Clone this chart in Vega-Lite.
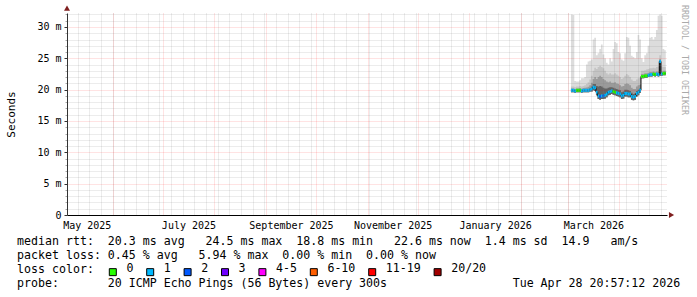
{
  "$schema": "https://vega.github.io/schema/vega-lite/v6.json",
  "width": 600,
  "height": 202,
  "autosize": "none",
  "padding": {"left": 67, "top": 13, "right": 30, "bottom": 82},
  "background": "#ffffff",
  "config": {"view": {"stroke": null}, "font": "DejaVu Sans Mono"},
  "title": {"text": "RRDTOOL / TOBI OETIKER", "orient": "right", "anchor": "start", "frame": "group", "angle": 90, "baseline": "middle", "offset": -4, "dx": -8, "font": "DejaVu Sans Mono", "fontSize": 8.3, "fontWeight": "normal", "color": "#aaaaaa"},
  "data": {"values": [
    {"t": "2026-03-03", "med": 19.9, "loss": "1", "lo": 19.6, "c": 20.05, "b": 20.2, "a": 20.5, "hi": 32.0},
    {"t": "2026-03-04", "med": 19.9, "loss": "1", "lo": 19.6, "c": 20.05, "b": 20.2, "a": 20.5, "hi": 31.9},
    {"t": "2026-03-05", "med": 19.8, "loss": "1", "lo": 19.5, "c": 19.95, "b": 20.1, "a": 20.4, "hi": 21.4},
    {"t": "2026-03-06", "med": 19.9, "loss": "0", "lo": 19.6, "c": 20.05, "b": 20.2, "a": 20.5, "hi": 21.3},
    {"t": "2026-03-07", "med": 19.9, "loss": "0", "lo": 19.6, "c": 20.05, "b": 20.2, "a": 20.5, "hi": 21.3},
    {"t": "2026-03-08", "med": 19.9, "loss": "0", "lo": 19.6, "c": 20.05, "b": 20.25, "a": 20.6, "hi": 21.5},
    {"t": "2026-03-09", "med": 19.8, "loss": "1", "lo": 19.5, "c": 20.0, "b": 20.15, "a": 20.5, "hi": 21.8},
    {"t": "2026-03-10", "med": 19.9, "loss": "1", "lo": 19.6, "c": 20.05, "b": 20.25, "a": 20.6, "hi": 21.8},
    {"t": "2026-03-11", "med": 19.9, "loss": "1", "lo": 19.6, "c": 20.05, "b": 20.3, "a": 20.7, "hi": 22.0},
    {"t": "2026-03-12", "med": 19.9, "loss": "1", "lo": 19.6, "c": 20.1, "b": 20.35, "a": 20.9, "hi": 24.0},
    {"t": "2026-03-13", "med": 19.9, "loss": "1", "lo": 19.6, "c": 20.1, "b": 20.45, "a": 21.2, "hi": 24.5},
    {"t": "2026-03-14", "med": 20.0, "loss": "1", "lo": 19.7, "c": 20.25, "b": 20.7, "a": 21.6, "hi": 24.6},
    {"t": "2026-03-15", "med": 20.1, "loss": "1", "lo": 19.7, "c": 20.5, "b": 21.1, "a": 22.2, "hi": 24.8},
    {"t": "2026-03-16", "med": 20.4, "loss": "1", "lo": 19.9, "c": 20.9, "b": 21.7, "a": 23.0, "hi": 28.0},
    {"t": "2026-03-17", "med": 20.3, "loss": "1", "lo": 19.8, "c": 20.9, "b": 22.0, "a": 23.5, "hi": 28.3},
    {"t": "2026-03-18", "med": 19.6, "loss": "1", "lo": 19.1, "c": 20.6, "b": 21.7, "a": 23.3, "hi": 25.5},
    {"t": "2026-03-19", "med": 19.0, "loss": "1", "lo": 18.5, "c": 20.5, "b": 22.0, "a": 23.6, "hi": 25.8},
    {"t": "2026-03-20", "med": 18.9, "loss": "2", "lo": 18.4, "c": 20.6, "b": 22.2, "a": 23.8, "hi": 26.5},
    {"t": "2026-03-21", "med": 19.0, "loss": "1", "lo": 18.5, "c": 20.5, "b": 22.0, "a": 23.6, "hi": 27.2},
    {"t": "2026-03-22", "med": 19.0, "loss": "2", "lo": 18.5, "c": 20.3, "b": 21.7, "a": 23.4, "hi": 25.6},
    {"t": "2026-03-23", "med": 19.1, "loss": "1", "lo": 18.6, "c": 20.2, "b": 21.5, "a": 23.0, "hi": 25.0},
    {"t": "2026-03-24", "med": 19.3, "loss": "1", "lo": 18.8, "c": 20.2, "b": 21.3, "a": 22.6, "hi": 24.3},
    {"t": "2026-03-25", "med": 19.6, "loss": "1", "lo": 19.1, "c": 20.3, "b": 21.2, "a": 22.4, "hi": 24.0},
    {"t": "2026-03-26", "med": 19.7, "loss": "1", "lo": 19.2, "c": 20.4, "b": 21.3, "a": 22.6, "hi": 25.0},
    {"t": "2026-03-27", "med": 19.8, "loss": "1", "lo": 19.3, "c": 20.4, "b": 21.1, "a": 22.4, "hi": 24.5},
    {"t": "2026-03-28", "med": 19.7, "loss": "0", "lo": 19.2, "c": 20.3, "b": 21.1, "a": 22.4, "hi": 26.5},
    {"t": "2026-03-29", "med": 19.6, "loss": "0", "lo": 19.1, "c": 20.2, "b": 21.2, "a": 22.6, "hi": 27.6},
    {"t": "2026-03-30", "med": 19.5, "loss": "1", "lo": 19.0, "c": 20.1, "b": 21.0, "a": 22.4, "hi": 27.4},
    {"t": "2026-03-31", "med": 19.4, "loss": "1", "lo": 18.9, "c": 20.0, "b": 20.9, "a": 22.2, "hi": 26.0},
    {"t": "2026-04-01", "med": 19.3, "loss": "1", "lo": 18.8, "c": 19.9, "b": 20.7, "a": 22.0, "hi": 25.8},
    {"t": "2026-04-02", "med": 19.0, "loss": "1", "lo": 18.5, "c": 19.6, "b": 20.5, "a": 21.7, "hi": 24.8},
    {"t": "2026-04-03", "med": 19.1, "loss": "1", "lo": 18.6, "c": 19.7, "b": 20.6, "a": 21.9, "hi": 24.6},
    {"t": "2026-04-04", "med": 19.4, "loss": "1", "lo": 18.9, "c": 20.0, "b": 20.9, "a": 22.2, "hi": 25.8},
    {"t": "2026-04-05", "med": 19.4, "loss": "1", "lo": 18.9, "c": 20.0, "b": 21.0, "a": 22.5, "hi": 28.4},
    {"t": "2026-04-06", "med": 19.3, "loss": "1", "lo": 18.8, "c": 19.9, "b": 20.9, "a": 22.3, "hi": 28.3},
    {"t": "2026-04-07", "med": 19.3, "loss": "1", "lo": 18.8, "c": 19.8, "b": 20.7, "a": 22.0, "hi": 27.0},
    {"t": "2026-04-08", "med": 18.9, "loss": "1", "lo": 18.4, "c": 19.5, "b": 20.3, "a": 21.6, "hi": 25.4},
    {"t": "2026-04-09", "med": 18.8, "loss": "1", "lo": 18.3, "c": 19.3, "b": 20.1, "a": 21.4, "hi": 25.2},
    {"t": "2026-04-10", "med": 18.9, "loss": "1", "lo": 18.4, "c": 19.4, "b": 20.1, "a": 21.4, "hi": 25.0},
    {"t": "2026-04-11", "med": 19.4, "loss": "1", "lo": 18.9, "c": 19.8, "b": 20.5, "a": 21.6, "hi": 26.0},
    {"t": "2026-04-12", "med": 19.6, "loss": "1", "lo": 19.1, "c": 20.0, "b": 20.7, "a": 21.8, "hi": 28.7},
    {"t": "2026-04-13", "med": 19.9, "loss": "1", "lo": 19.5, "c": 20.2, "b": 20.8, "a": 21.9, "hi": 28.0},
    {"t": "2026-04-14", "med": 22.1, "loss": "0", "lo": 21.8, "c": 22.25, "b": 22.5, "a": 23.0, "hi": 25.0},
    {"t": "2026-04-15", "med": 22.1, "loss": "0", "lo": 21.8, "c": 22.25, "b": 22.5, "a": 23.0, "hi": 24.4},
    {"t": "2026-04-16", "med": 22.2, "loss": "0", "lo": 21.9, "c": 22.35, "b": 22.6, "a": 23.1, "hi": 25.5},
    {"t": "2026-04-17", "med": 22.2, "loss": "0", "lo": 21.9, "c": 22.35, "b": 22.6, "a": 23.2, "hi": 25.8},
    {"t": "2026-04-18", "med": 22.3, "loss": "1", "lo": 22.0, "c": 22.45, "b": 22.7, "a": 23.3, "hi": 27.0},
    {"t": "2026-04-19", "med": 22.4, "loss": "1", "lo": 22.1, "c": 22.55, "b": 22.8, "a": 23.4, "hi": 28.3},
    {"t": "2026-04-20", "med": 22.4, "loss": "1", "lo": 22.1, "c": 22.55, "b": 22.8, "a": 23.4, "hi": 28.4},
    {"t": "2026-04-21", "med": 22.5, "loss": "0", "lo": 22.2, "c": 22.65, "b": 22.9, "a": 23.5, "hi": 28.0},
    {"t": "2026-04-22", "med": 22.4, "loss": "0", "lo": 22.1, "c": 22.55, "b": 22.8, "a": 23.4, "hi": 28.4},
    {"t": "2026-04-23", "med": 22.5, "loss": "1", "lo": 22.2, "c": 22.65, "b": 22.9, "a": 23.6, "hi": 29.5},
    {"t": "2026-04-24", "med": 22.4, "loss": "1", "lo": 22.1, "c": 22.55, "b": 22.9, "a": 23.7, "hi": 31.8},
    {"t": "2026-04-25", "med": 24.5, "loss": "1", "lo": 22.2, "c": 24.65, "b": 24.9, "a": 25.5, "hi": 32.0},
    {"t": "2026-04-26", "med": 22.5, "loss": "1", "lo": 22.2, "c": 22.65, "b": 22.9, "a": 23.7, "hi": 31.8},
    {"t": "2026-04-27", "med": 22.6, "loss": "0", "lo": 22.3, "c": 22.75, "b": 23.0, "a": 23.6, "hi": 26.5},
    {"t": "2026-04-28", "med": 22.6, "loss": "0", "lo": 22.3, "c": 22.75, "b": 23.0, "a": 23.6, "hi": 26.3},
    {"t": "2026-04-28T21:00:00Z", "med": 22.6, "loss": "0", "lo": 22.3, "c": 22.75, "b": 23.0, "a": 23.6, "hi": 26.3}
  ]},
  "resolve": {"axis": {"x": "independent", "y": "independent"}},
  "layer": [
    {
      "mark": {"type": "area", "interpolate": "step-after", "color": "#dcdcdc"},
      "encoding": {
        "x": {"field": "t", "type": "temporal", "scale": {"type": "utc", "nice": false, "domain": [{"year": 2025, "month": 5, "date": 4, "hours": 15, "utc": true}, {"year": 2026, "month": 4, "date": 29, "hours": 15, "utc": true}]},
          "axis": {"orient": "bottom", "grid": true, "gridColor": "#808080", "gridOpacity": 0.3, "gridDash": [1, 1], "gridWidth": 1, "tickCount": {"interval": "week", "step": 1}, "labels": false, "ticks": false, "domain": false, "title": null, "zindex": 1}},
        "y": {"field": "lo", "type": "quantitative", "scale": {"domain": [0, 32.23], "nice": false, "zero": false},
          "axis": {"orient": "left", "grid": true, "gridColor": "#808080", "gridOpacity": 0.3, "gridDash": [1, 1], "gridWidth": 1, "values": [1,2,3,4,6,7,8,9,11,12,13,14,16,17,18,19,21,22,23,24,26,27,28,29,31,32], "labels": false, "ticks": true, "tickSize": 2, "tickColor": "#aaaaaa", "domain": false, "title": null, "zindex": 1}},
        "y2": {"field": "hi"}
      }
    },
    {
      "mark": {"type": "area", "interpolate": "step-after", "color": "#c4c4c4"},
      "encoding": {
        "x": {"field": "t", "type": "temporal", "scale": {"type": "utc", "nice": false, "domain": [{"year": 2025, "month": 5, "date": 4, "hours": 15, "utc": true}, {"year": 2026, "month": 4, "date": 29, "hours": 15, "utc": true}]},
          "axis": {"orient": "bottom", "grid": true, "gridColor": "#ff0000", "gridOpacity": 0.22, "gridDash": [1, 1], "gridWidth": 1, "tickCount": {"interval": "month", "step": 1}, "labels": false, "ticks": false, "domain": false, "title": null, "zindex": 1}},
        "y": {"field": "lo", "type": "quantitative", "scale": {"domain": [0, 32.23], "nice": false, "zero": false},
          "axis": {"orient": "left", "grid": true, "gridColor": "#ff0000", "gridOpacity": 0.22, "gridDash": [1, 1], "gridWidth": 1, "values": [0, 5, 10, 15, 20, 25, 30], "labels": false, "ticks": false, "domain": false, "title": null, "zindex": 1}},
        "y2": {"field": "a"}
      }
    },
    {
      "mark": {"type": "area", "interpolate": "step-after", "color": "#9a9a9a"},
      "encoding": {
        "x": {"field": "t", "type": "temporal", "scale": {"type": "utc", "nice": false, "domain": [{"year": 2025, "month": 5, "date": 4, "hours": 15, "utc": true}, {"year": 2026, "month": 4, "date": 29, "hours": 15, "utc": true}]},
          "axis": {"orient": "bottom", "grid": false, "values": [
              {"year": 2025, "month": 5, "date": 16, "hours": 12, "utc": true},
              {"year": 2025, "month": 7, "date": 16, "hours": 12, "utc": true},
              {"year": 2025, "month": 9, "date": 16, "utc": true},
              {"year": 2025, "month": 11, "date": 16, "utc": true},
              {"year": 2026, "month": 1, "date": 16, "hours": 12, "utc": true},
              {"year": 2026, "month": 3, "date": 16, "hours": 12, "utc": true}],
            "labelExpr": "utcFormat(datum.value, '%B %Y')", "labelFont": "DejaVu Sans Mono", "labelFontSize": 10, "labelColor": "#000000", "labelPadding": 5, "labelFlush": false, "labelOverlap": false, "labelAlign": "center",
            "ticks": false, "domain": true, "domainColor": "#000000", "domainWidth": 1, "zindex": 1,
            "title": ["median rtt:\u00a0\u00a020.3 ms avg\u00a0\u00a0\u00a024.5 ms max\u00a0\u00a018.8 ms min\u00a0\u00a0\u00a022.6 ms now\u00a0\u00a01.4 ms sd\u00a0\u00a014.9\u00a0\u00a0\u00a0am/s", "packet loss: 0.45 % avg\u00a0\u00a0\u00a05.94 % max\u00a0\u00a00.00 % min\u00a0\u00a00.00 % now", "loss color:", "probe:\u00a0\u00a0\u00a0\u00a0\u00a0\u00a0\u00a020 ICMP Echo Pings (56 Bytes) every 300s\u00a0\u00a0\u00a0\u00a0\u00a0\u00a0\u00a0\u00a0\u00a0\u00a0\u00a0\u00a0\u00a0\u00a0\u00a0\u00a0\u00a0\u00a0Tue Apr 28 20:57:12 2026"],
            "titleFont": "DejaVu Sans Mono", "titleFontSize": 11.6, "titleFontWeight": "normal", "titleColor": "#000000", "titleAlign": "left", "titleAnchor": "start", "titleBaseline": "top", "titleLineHeight": 13.8, "titleAngle": 0, "titleX": -50.4, "titleY": 20.7}},
        "y": {"field": "lo", "type": "quantitative", "scale": {"domain": [0, 32.23], "nice": false, "zero": false},
          "axis": {"orient": "left", "grid": false, "values": [0, 5, 10, 15, 20, 25, 30], "labelExpr": "datum.value == 0 ? '0\u00a0' : datum.value + '\u00a0m'", "labelFont": "DejaVu Sans Mono", "labelFontSize": 10, "labelColor": "#000000", "labelPadding": 3, "labelFlush": false, "labelOverlap": false,
            "ticks": true, "tickSize": 3, "tickColor": "#333333", "domain": true, "domainColor": "#333333", "domainWidth": 1, "zindex": 1,
            "title": "Seconds", "titleFont": "DejaVu Sans Mono", "titleFontSize": 11, "titleFontWeight": "normal", "titleColor": "#000000", "titleAngle": -90, "titleX": -56, "titleY": 101, "titleAlign": "center", "titleBaseline": "middle"}},
        "y2": {"field": "b"}
      }
    },
    {
      "mark": {"type": "area", "interpolate": "step-after", "color": "#646464"},
      "encoding": {
        "x": {"field": "t", "type": "temporal", "axis": null, "scale": {"type": "utc", "nice": false, "domain": [{"year": 2025, "month": 5, "date": 4, "hours": 15, "utc": true}, {"year": 2026, "month": 4, "date": 29, "hours": 15, "utc": true}]}},
        "y": {"field": "lo", "type": "quantitative", "axis": null, "scale": {"domain": [0, 32.23], "nice": false, "zero": false}},
        "y2": {"field": "c"}
      }
    },
    {
      "mark": {"type": "line", "interpolate": "step-after", "color": "#000000", "strokeWidth": 1},
      "encoding": {
        "x": {"field": "t", "type": "temporal", "axis": null, "scale": {"type": "utc", "nice": false, "domain": [{"year": 2025, "month": 5, "date": 4, "hours": 15, "utc": true}, {"year": 2026, "month": 4, "date": 29, "hours": 15, "utc": true}]}},
        "y": {"field": "med", "type": "quantitative", "axis": null, "scale": {"domain": [0, 32.23], "nice": false, "zero": false}}
      }
    },
    {
      "transform": [
        {"window": [{"op": "lead", "field": "t", "as": "t2"}], "sort": [{"field": "t", "order": "ascending"}]},
        {"filter": "datum.t2 != null"}
      ],
      "mark": {"type": "rect", "yOffset": -1.5, "y2Offset": 1.5},
      "encoding": {
        "x": {"field": "t", "type": "temporal", "axis": null, "scale": {"type": "utc", "nice": false, "domain": [{"year": 2025, "month": 5, "date": 4, "hours": 15, "utc": true}, {"year": 2026, "month": 4, "date": 29, "hours": 15, "utc": true}]}},
        "x2": {"field": "t2"},
        "y": {"field": "med", "type": "quantitative", "axis": null, "scale": {"domain": [0, 32.23], "nice": false, "zero": false}},
        "y2": {"field": "med"},
        "color": {"field": "loss", "type": "nominal",
          "scale": {"domain": ["0", "1", "2", "3", "4-5", "6-10", "11-19", "20/20"], "range": ["#26ff00", "#00b8ff", "#0059ff", "#7000ff", "#ff00ff", "#ff5e00", "#ff0000", "#a10000"]},
          "legend": {"title": null, "orient": "none", "legendX": 40, "legendY": 253, "direction": "horizontal", "columns": 8, "padding": 0, "symbolType": "square", "symbolSize": 49, "symbolStrokeColor": "#000000", "symbolStrokeWidth": 1, "symbolOpacity": 1, "labelFont": "DejaVu Sans Mono", "labelFontSize": 11.6, "labelColor": "#000000", "labelBaseline": "alphabetic", "labelOffset": 7.8, "columnPadding": 10.4, "gridAlign": "each", "labelLimit": 0}}
      }
    },
    {
      "data": {"values": [{}]},
      "mark": {"type": "point", "shape": "triangle-right", "filled": true, "size": 36, "color": "#7f1f1f", "opacity": 1},
      "encoding": {
        "x": {"datum": {"year": 2026, "month": 5, "date": 2, "hours": 8, "utc": true}, "type": "temporal", "axis": null, "scale": {"type": "utc", "nice": false, "domain": [{"year": 2025, "month": 5, "date": 4, "hours": 15, "utc": true}, {"year": 2026, "month": 4, "date": 29, "hours": 15, "utc": true}]}},
        "y": {"datum": 0, "type": "quantitative", "axis": null, "scale": {"domain": [0, 32.23], "nice": false, "zero": false}}
      }
    },
    {
      "data": {"values": [{}]},
      "mark": {"type": "point", "shape": "triangle-up", "filled": true, "size": 36, "color": "#7f1f1f", "opacity": 1},
      "encoding": {
        "x": {"datum": {"year": 2025, "month": 5, "date": 4, "hours": 15, "utc": true}, "type": "temporal", "axis": null, "scale": {"type": "utc", "nice": false, "domain": [{"year": 2025, "month": 5, "date": 4, "hours": 15, "utc": true}, {"year": 2026, "month": 4, "date": 29, "hours": 15, "utc": true}]}},
        "y": {"datum": 33.0, "type": "quantitative", "axis": null, "scale": {"domain": [0, 32.23], "nice": false, "zero": false}}
      }
    }
  ]
}
